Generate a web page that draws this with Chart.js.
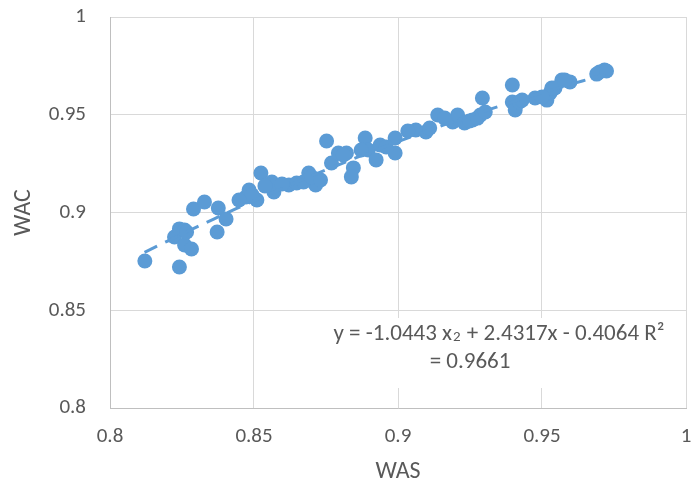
<!DOCTYPE html>
<html>
<head>
<meta charset="utf-8">
<script src="https://cdn.jsdelivr.net/npm/chart.js@4/dist/chart.umd.min.js"></script>
<style>
  html, body { margin: 0; padding: 0; background: #ffffff; }
  #wrap { width: 693px; height: 486px; position: relative; }
</style>
</head>
<body>
<div id="wrap"><canvas id="c" width="693" height="486"></canvas></div>
<script>
// ---- data ----
const wasValues = [
  0.8121, 0.8241, 0.8224, 0.8241, 0.8259, 0.8259, 0.8283, 0.8290, 0.8328, 0.8372,
  0.8376, 0.8403, 0.8472, 0.8483, 0.8510, 0.8524, 0.8562, 0.8569, 0.8621, 0.8648,
  0.8690, 0.8714, 0.8752, 0.8769, 0.8793, 0.8821, 0.8845, 0.8838, 0.8886, 0.8897,
  0.8924, 0.8938, 0.8990, 0.8990, 0.9062, 0.9097, 0.9138, 0.9190, 0.9207, 0.9231,
  0.9259, 0.9286, 0.9293, 0.9397, 0.9397, 0.9407, 0.9421, 0.9476, 0.9517, 0.9528,
  0.9534, 0.9569, 0.9597, 0.9700, 0.9717, 0.8493, 0.8538, 0.8597, 0.8672, 0.8700,
  0.8731, 0.8810, 0.8872, 0.8959, 0.9034, 0.9110, 0.9162, 0.9248, 0.9276, 0.9431,
  0.9500, 0.9545, 0.9579, 0.9690, 0.9724, 0.9303, 0.8448, 0.8266
];
const wacValues = [
  0.8752, 0.8721, 0.8875, 0.8916, 0.8910, 0.8834, 0.8813, 0.9018, 0.9054, 0.8900,
  0.9023, 0.8967, 0.9079, 0.9115, 0.9064, 0.9202, 0.9156, 0.9105, 0.9141, 0.9151,
  0.9202, 0.9141, 0.9366, 0.9253, 0.9304, 0.9304, 0.9228, 0.9182, 0.9381, 0.9320,
  0.9269, 0.9345, 0.9381, 0.9304, 0.9422, 0.9412, 0.9499, 0.9463, 0.9499, 0.9458,
  0.9473, 0.9499, 0.9586, 0.9652, 0.9565, 0.9524, 0.9565, 0.9586, 0.9575, 0.9611,
  0.9637, 0.9678, 0.9668, 0.9719, 0.9729, 0.9090, 0.9136, 0.9146, 0.9156, 0.9182,
  0.9166, 0.9294, 0.9320, 0.9335, 0.9417, 0.9432, 0.9483, 0.9468, 0.9483, 0.9575,
  0.9591, 0.9637, 0.9678, 0.9708, 0.9724, 0.9514, 0.9064, 0.8900
];
const xTicks = [0.8, 0.85, 0.9, 0.95, 1];
const yTicks = [0.8, 0.85, 0.9, 0.95, 1];
const xTickLabels = ['0.8', '0.85', '0.9', '0.95', '1'];
const yTickLabels = ['0.8', '0.85', '0.9', '0.95', '1'];
const trendCoef = [-1.0443, 2.4317, -0.4064];   // a, b, c of the fitted quadratic
const trendRange = [0.812, 0.972];
const xTitle = 'WAS';
const yTitle = 'WAC';
const eqLine1a = 'y = -1.0443 x';
const eqSub = '2';
const eqLine1b = ' + 2.4317x - 0.4064 R\u00B2';
const eqLine2 = '= 0.9661';

// ---- build ----
const FONT = 'Carlito, Calibri, Lato, sans-serif';
const TXT = '#595959';
const BLUE = '#5B9BD5';

const points = wasValues.map((x, i) => ({ x: x, y: wacValues[i] }));
const trendPts = [];
const nSeg = 40;
for (let i = 0; i <= nSeg; i++) {
  const x = trendRange[0] + (trendRange[1] - trendRange[0]) * i / nSeg;
  trendPts.push({ x: x, y: trendCoef[0] * x * x + trendCoef[1] * x + trendCoef[2] });
}

const labelPlugin = {
  id: 'eqLabel',
  afterDatasetsDraw(chart) {
    const ctx = chart.ctx;
    ctx.save();
    ctx.fillStyle = '#ffffff';
    ctx.fillRect(318, 318, 366, 70);
    ctx.fillStyle = TXT;
    ctx.textBaseline = 'alphabetic';
    ctx.textAlign = 'left';
    const big = '23px ' + FONT;
    const small = '15px ' + FONT;
    ctx.font = big;
    const wa = ctx.measureText(eqLine1a).width;
    const wb = ctx.measureText(eqLine1b).width;
    ctx.font = small;
    const ws = ctx.measureText(eqSub).width;
    const total = wa + ws + wb + 2;
    const x0 = 499 - total / 2;
    const base1 = 340;
    ctx.font = big;
    ctx.fillText(eqLine1a, x0, base1);
    ctx.font = small;
    ctx.fillText(eqSub, x0 + wa + 1, base1 + 1);
    ctx.font = big;
    ctx.fillText(eqLine1b, x0 + wa + ws + 2, base1);
    ctx.textAlign = 'center';
    ctx.fillText(eqLine2, 470, 368);
    ctx.restore();
  }
};

new Chart(document.getElementById('c'), {
  type: 'scatter',
  data: {
    datasets: [
      {
        label: 'trend',
        data: trendPts,
        showLine: true,
        borderColor: BLUE,
        borderWidth: 3,
        borderDash: [14, 9],
        pointRadius: 0,
        pointHoverRadius: 0,
        fill: false,
        tension: 0,
        order: 0
      },
      {
        label: 'WAC',
        data: points,
        backgroundColor: BLUE,
        borderWidth: 0,
        pointRadius: 7.5,
        pointHoverRadius: 7.5,
        order: 1
      }
    ]
  },
  options: {
    responsive: false,
    animation: false,
    events: [],
    layout: { autoPadding: false, padding: { top: 17, right: 7, left: 0, bottom: 0 } },
    plugins: { legend: { display: false }, tooltip: { enabled: false } },
    scales: {
      x: {
        type: 'linear',
        min: 0.8, max: 1,
        afterBuildTicks(s) { s.ticks = xTicks.map(v => ({ value: v })); },
        afterFit(s) { s.height = 78; s.paddingLeft = 0; s.paddingRight = 0; },
        ticks: {
          padding: 16,
          color: TXT,
          font: { family: FONT, size: 21 },
          callback: (v, i) => xTickLabels[i]
        },
        grid: { color: '#D9D9D9', lineWidth: 1, drawTicks: false },
        border: { color: '#BFBFBF', width: 1 },
        title: { display: true, text: xTitle, color: TXT, font: { family: FONT, size: 24 }, padding: { top: 0, bottom: 0 } }
      },
      y: {
        type: 'linear',
        min: 0.8, max: 1,
        afterBuildTicks(s) { s.ticks = yTicks.map(v => ({ value: v })); },
        afterFit(s) { s.width = 110; s.paddingTop = 0; s.paddingBottom = 0; },
        ticks: {
          padding: 24,
          color: TXT,
          font: { family: FONT, size: 21 },
          callback: (v, i) => yTickLabels[i]
        },
        grid: { color: '#D9D9D9', lineWidth: 1, drawTicks: false },
        border: { color: '#BFBFBF', width: 1 },
        title: { display: true, text: yTitle, color: TXT, font: { family: FONT, size: 24 }, padding: { top: 10, bottom: 0 } }
      }
    }
  },
  plugins: [labelPlugin]
});
</script>
</body>
</html>
